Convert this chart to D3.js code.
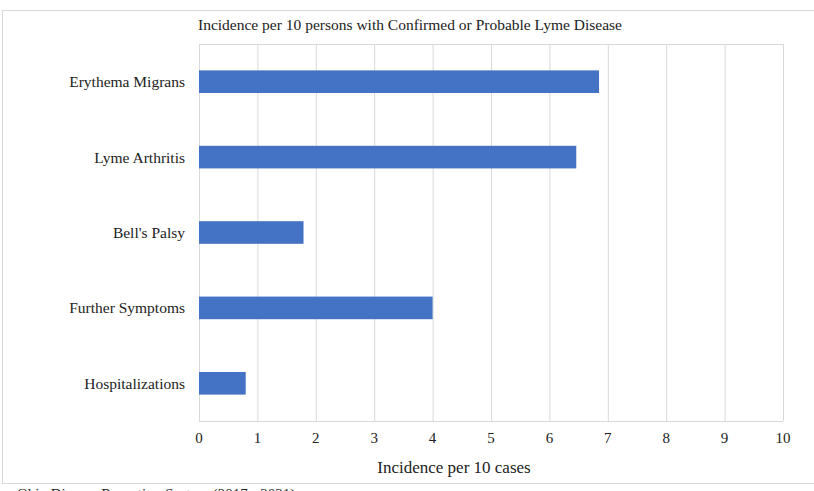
<!DOCTYPE html>
<html>
<head>
<meta charset="utf-8">
<script src="https://cdn.jsdelivr.net/npm/d3@7.9.0/dist/d3.min.js"></script>
<style>
  html, body { margin: 0; padding: 0; background: #fff; }
  svg { display: block; font-family: "Liberation Serif", "DejaVu Serif", serif; }
</style>
</head>
<body>
<div id="chart"></div>
<script>
const categories = ["Erythema Migrans", "Lyme Arthritis", "Bell's Palsy", "Further Symptoms", "Hospitalizations"];
const values = [6.85, 6.46, 1.79, 4.0, 0.8];
const xTicks = [0, 1, 2, 3, 4, 5, 6, 7, 8, 9, 10];
const title = "Incidence per 10 persons with Confirmed or Probable Lyme Disease";
const xTitle = "Incidence per 10 cases";
const footer = "Ohio Disease Reporting System (2017 - 2021)";

const width = 814;
const height = 491;
const plot = { left: 199, right: 783, top: 44, bottom: 421 };

const svg = d3.select("#chart")
  .append("svg")
  .attr("width", width)
  .attr("height", height);

// outer chart frame
svg.append("rect")
  .attr("x", 2.5)
  .attr("y", 10.5)
  .attr("width", 840)
  .attr("height", 473)
  .attr("fill", "white")
  .attr("stroke", "#d9d9d9");

const x = d3.scaleLinear()
  .domain([0, 10])
  .range([plot.left, plot.right]);

const y = d3.scaleBand()
  .domain(categories)
  .range([plot.top, plot.bottom])
  .paddingInner(0.7)
  .paddingOuter(0.35);

// gridlines
svg.append("g")
  .attr("transform", `translate(0,${plot.bottom})`)
  .call(d3.axisBottom(x).tickValues(xTicks).tickFormat("").tickSize(plot.bottom - plot.top))
  .call(g => g.select(".domain").remove())
  .selectAll("line")
  .attr("transform", `translate(0,${-(plot.bottom - plot.top)})`)
  .attr("stroke", "#d9d9d9");

// plot border top / bottom
svg.append("line")
  .attr("x1", plot.left).attr("x2", plot.right)
  .attr("y1", plot.top + 0.5).attr("y2", plot.top + 0.5)
  .attr("stroke", "#d9d9d9");
svg.append("line")
  .attr("x1", plot.left).attr("x2", plot.right)
  .attr("y1", plot.bottom + 0.5).attr("y2", plot.bottom + 0.5)
  .attr("stroke", "#d9d9d9");

// bars
svg.append("g")
  .selectAll("rect")
  .data(categories)
  .join("rect")
  .attr("x", x(0))
  .attr("y", (d) => y(d))
  .attr("width", (d, i) => x(values[i]) - x(0))
  .attr("height", y.bandwidth())
  .attr("fill", "#4472c4");

// category labels
svg.append("g")
  .selectAll("text")
  .data(categories)
  .join("text")
  .attr("x", 185)
  .attr("y", (d) => y(d) + y.bandwidth() / 2)
  .attr("dy", "0.35em")
  .attr("text-anchor", "end")
  .attr("font-size", "15.5px")
  .attr("fill", "#222")
  .text((d) => d);

// x tick labels
svg.append("g")
  .selectAll("text")
  .data(xTicks)
  .join("text")
  .attr("x", (d) => x(d))
  .attr("y", 443)
  .attr("text-anchor", "middle")
  .attr("font-size", "15px")
  .attr("fill", "#222")
  .text((d) => d);

svg.append("text")
  .attr("x", 454)
  .attr("y", 473)
  .attr("text-anchor", "middle")
  .attr("font-size", "17px")
  .attr("fill", "#222")
  .text(xTitle);

svg.append("text")
  .attr("x", 410)
  .attr("y", 30)
  .attr("text-anchor", "middle")
  .attr("font-size", "15.5px")
  .attr("fill", "#222")
  .text(title);

svg.append("text")
  .attr("x", 17)
  .attr("y", 499)
  .attr("font-size", "15px")
  .attr("fill", "#222")
  .text(footer);
</script>
</body>
</html>
